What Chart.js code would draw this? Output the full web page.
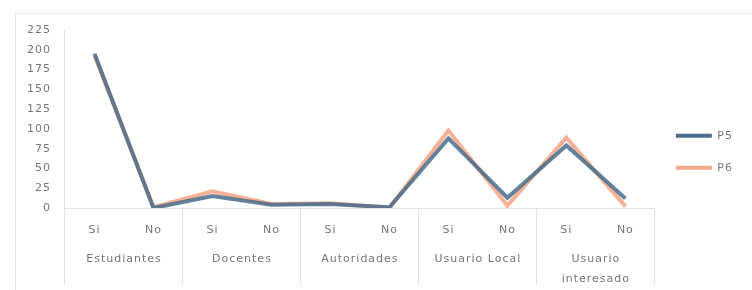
<!DOCTYPE html>
<html>
<head>
<meta charset="utf-8">
<script src="https://cdn.jsdelivr.net/npm/chart.js@4"></script>
<style>
  body { margin: 0; background: #fff; }
  #marco { position: absolute; left: 15px; top: 13px; width: 760px; height: 300px;
           border-left: 1px solid #e6e6e6; border-top: 1px solid #e6e6e6; pointer-events: none; }
  canvas { position: absolute; left: 0; top: 0; }
</style>
</head>
<body>
<canvas id="grafico" width="752" height="290"></canvas>
<div id="marco"></div>
<script>
const respuestas = ["Si", "No", "Si", "No", "Si", "No", "Si", "No", "Si", "No"];
const grupos = ["Estudiantes", "Docentes", "Autoridades", "Usuario Local", ["Usuario", "interesado"]];
const valoresP5 = [195, 0, 15, 4, 5, 1, 88, 13, 79, 12];
const valoresP6 = [193, 1, 21, 5, 6, 0, 98, 3, 89, 2];
const ticksY = [0, 225, 25];

const gris = "#e3e3e3";
const colorTexto = "#767676";
const fuente = { family: "'DejaVu Sans', 'Open Sans', sans-serif", size: 11 };

// el texto del original es bastante espaciado
const espaciado = {
  id: "espaciado",
  beforeLayout: chart => { chart.ctx.letterSpacing = "1px"; },
  beforeDraw: chart => { chart.ctx.letterSpacing = "1px"; }
};

new Chart(document.getElementById("grafico"), {
  type: "line",
  data: {
    labels: respuestas,
    datasets: [
      { label: "P5", data: valoresP5, borderColor: "rgba(72,108,140,0.85)", backgroundColor: "#4a6e8e",
        borderWidth: 4, pointRadius: 0, tension: 0 },
      { label: "P6", data: valoresP6, borderColor: "rgba(243,168,138,0.9)", backgroundColor: "#f3a88a",
        borderWidth: 4, pointRadius: 0, tension: 0 }
    ]
  },
  options: {
    responsive: false,
    animation: false,
    layout: { padding: { top: 30, bottom: 2, left: 21, right: 9 } },
    scales: {
      x: {
        offset: true,
        border: { color: gris },
        afterFit: s => { s.height = 30; },
        grid: {
          offset: true, drawOnChartArea: false, tickLength: 77,
          color: ctx => (ctx.index === undefined || ctx.index % 2 === 0) ? gris : "rgba(0,0,0,0)"
        },
        ticks: { padding: -61, color: colorTexto, font: fuente, maxRotation: 0, autoSkip: false }
      },
      x2: {
        type: "category",
        labels: grupos,
        offset: true,
        position: "bottom",
        border: { display: false },
        afterFit: s => { s.height = 50; },
        grid: { display: false },
        ticks: { padding: 3, color: colorTexto, font: Object.assign({ lineHeight: 1.8 }, fuente),
                 maxRotation: 0, autoSkip: false }
      },
      y: {
        min: ticksY[0], max: ticksY[1],
        border: { color: gris },
        grid: { display: false },
        ticks: { stepSize: ticksY[2], padding: 6, color: colorTexto, font: fuente }
      }
    },
    plugins: {
      legend: {
        position: "right",
        align: "start",
        title: { display: true, text: " ", font: fuente, padding: { top: 66, bottom: 0 } },
        labels: {
          boxWidth: 36, boxHeight: 4, padding: 21, color: colorTexto, font: fuente,
          generateLabels: chart => Chart.defaults.plugins.legend.labels.generateLabels(chart)
            .map(l => Object.assign(l, { lineWidth: 0 }))
        }
      },
      tooltip: { enabled: false }
    }
  },
  plugins: [espaciado]
});
</script>
</body>
</html>
